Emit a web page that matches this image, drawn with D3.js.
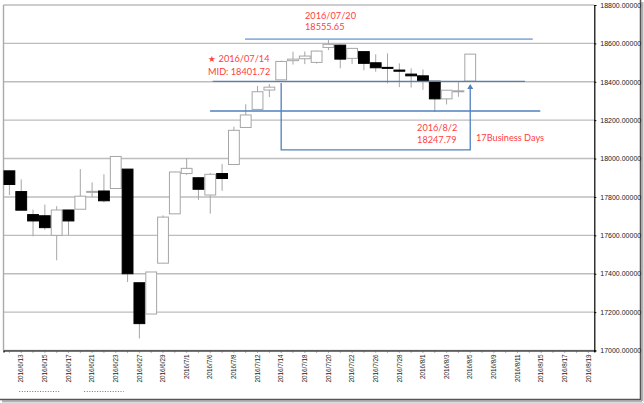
<!DOCTYPE html>
<html><head><meta charset="utf-8">
<script src="https://cdn.jsdelivr.net/npm/d3@7"></script>
<style>html,body{margin:0;padding:0;background:#fff;}svg{display:block;}</style>
</head><body>
<svg id="chart" width="644" height="403"></svg>
<script>
// ---- data ----
const dates = ["2016/6/10","2016/6/13","2016/6/14","2016/6/15","2016/6/16","2016/6/17",
  "2016/6/20","2016/6/21","2016/6/22","2016/6/23","2016/6/24",
  "2016/6/27","2016/6/28","2016/6/29","2016/6/30","2016/7/1",
  "2016/7/5","2016/7/6","2016/7/7","2016/7/8",
  "2016/7/11","2016/7/12","2016/7/13","2016/7/14","2016/7/15",
  "2016/7/18","2016/7/19","2016/7/20","2016/7/21","2016/7/22",
  "2016/7/25","2016/7/26","2016/7/27","2016/7/28","2016/7/29",
  "2016/8/1","2016/8/2","2016/8/3","2016/8/4","2016/8/5",
  "2016/8/8","2016/8/9","2016/8/10","2016/8/11","2016/8/12",
  "2016/8/15","2016/8/16","2016/8/17","2016/8/18","2016/8/19"];
const opens  = [17936,17828,17708,17702,17600,17732,17736,17826,17831,17844,17945,17353,17190,17455,17712,17922,17900,17810,17922,17969,18162,18256,18357,18410,18510,18520,18501,18579,18591,18522,18557,18499,18475,18461,18440,18431,18403,18311,18352,18403];
const highs  = [17938,17891,17734,17760,17752,17733,17945,17876,17918,18011,17946,17355,17409,17704,17931,18002,17902,17925,17972,18166,18283,18378,18388,18510,18557,18558,18562,18623,18594,18574,18560,18543,18548,18496,18470,18464,18403,18357,18400,18544];
const lows   = [17810,17731,17595,17629,17470,17600,17736,17799,17772,17844,17357,17063,17190,17455,17711,17915,17785,17713,17832,17969,18162,18256,18320,18410,18490,18492,18495,18565,18470,18492,18460,18452,18392,18372,18370,18358,18243,18282,18322,18403];
const closes = [17865,17731,17675,17640,17732,17675,17804,17829,17780,18011,17400,17140,17409,17695,17930,17949,17840,17918,17896,18147,18227,18348,18372,18506,18518,18534,18560,18595,18518,18574,18496,18473,18473,18455,18431,18404,18311,18356,18353,18544];
const yTicks = [17000,17200,17400,17600,17800,18000,18200,18400,18600,18800];
const xLabelDates = dates.filter((d,i)=> i % 2 === 1);

// annotations
const highLevel = 18622;      // 7/20 high line
const midLevel = 18401.72;
const lowLevel = 18247.79;
const bracketBottom = 18045;
const annoTexts = {
  top1: "2016/07/20", top2: "18555.65",
  mid1: "2016/07/14", mid2: "MID: 18401.72",
  low1: "2016/8/2", low2: "18247.79",
  days: "17Business Days"
};

// ---- scales ----
const svg = d3.select("#chart");
const x = d3.scaleBand().domain(dates).range([3.5, 594.3]).padding(0);
const bw = x.bandwidth();
const y = d3.scaleLinear().domain([17000, 18800]).range([350.5, 5]);
const cx = d => x(d) + bw / 2;
const ux = u => x.range()[0] + u * bw;   // fractional band position

// outer frame with shadow
svg.append("line").attr("x1",0).attr("x2",640).attr("y1",399.5).attr("y2",399.5).attr("stroke","#555").attr("stroke-width",1.5);
svg.append("line").attr("x1",2).attr("x2",642).attr("y1",401).attr("y2",401).attr("stroke","#999").attr("stroke-width",1.5);
svg.append("line").attr("x1",2).attr("x2",643).attr("y1",402.5).attr("y2",402.5).attr("stroke","#ddd").attr("stroke-width",1);
svg.append("line").attr("x1",640.5).attr("x2",640.5).attr("y1",0).attr("y2",400).attr("stroke","#555").attr("stroke-width",1.5);
svg.append("line").attr("x1",642).attr("x2",642).attr("y1",2).attr("y2",401).attr("stroke","#999").attr("stroke-width",1.5);
svg.append("line").attr("x1",643.5).attr("x2",643.5).attr("y1",2).attr("y2",402).attr("stroke","#ddd").attr("stroke-width",1);

// gridlines
svg.append("g").selectAll("line").data(yTicks).join("line")
  .attr("x1", x.range()[0]).attr("x2", x.range()[1])
  .attr("y1", d => y(d)).attr("y2", d => y(d))
  .attr("stroke", "#bdbdbd").attr("stroke-width", 1.4);

// left border
svg.append("line").attr("x1",x.range()[0]).attr("x2",x.range()[0]).attr("y1",y(18800)).attr("y2",y(17000))
  .attr("stroke","#aaa").attr("stroke-width",1.4);

// ---- candles ----
const candles = dates.slice(0, opens.length).map((d,i)=>({d, o:opens[i], h:highs[i], l:lows[i], c:closes[i]}));
const cg = svg.append("g");
cg.selectAll("line.wick").data(candles).join("line").attr("class","wick")
  .attr("x1", d => cx(d.d)).attr("x2", d => cx(d.d))
  .attr("y1", d => y(d.h)).attr("y2", d => y(d.l))
  .attr("stroke", "#a6a6a6").attr("stroke-width", 1);
cg.selectAll("rect").data(candles).join("rect")
  .attr("x", d => x(d.d) + 0.5).attr("width", bw - 1)
  .attr("y", d => y(Math.max(d.o, d.c)))
  .attr("height", d => Math.max(1, Math.abs(y(d.o) - y(d.c))))
  .attr("fill", d => d.c < d.o ? "#000" : "#fff")
  .attr("stroke", d => d.c < d.o ? "#000" : "#a6a6a6")
  .attr("stroke-width", 1);

// ---- axes ----
const yAxis = svg.append("g").attr("transform", `translate(${x.range()[1]},0)`)
  .call(d3.axisRight(y).tickValues(yTicks).tickFormat(d3.format(".5f")).tickSize(2).tickPadding(4));
yAxis.select(".domain").attr("stroke","#000").attr("stroke-width",1.2);
yAxis.selectAll("text").attr("font-family","'Liberation Sans', Arial, sans-serif").attr("font-size","7px").attr("fill","#222");

const xAxis = svg.append("g").attr("transform", `translate(0,${y(17000)})`)
  .call(d3.axisBottom(x).tickValues(dates).tickSize(2)
    .tickFormat(d => xLabelDates.includes(d) ? d : ""));
xAxis.select(".domain").attr("stroke","#000").attr("stroke-width",1.2);
xAxis.selectAll(".tick line").attr("stroke","#666");
xAxis.selectAll("text")
  .attr("font-family","'Liberation Sans', Arial, sans-serif").attr("font-size","6.3px").attr("fill","#222")
  .attr("transform","rotate(-90)").attr("text-anchor","end")
  .attr("x",-4).attr("y",0).attr("dy","0.35em");

// dotted underline artifacts
const dots = [["2016/6/13",-2,"2016/6/17",-8],["2016/6/21",-8,"2016/6/23",8]];
svg.append("g").selectAll("line").data(dots).join("line")
  .attr("x1", d => cx(d[0]) + d[1]).attr("x2", d => cx(d[2]) + d[3])
  .attr("y1", 391.5).attr("y2", 391.5)
  .attr("stroke","#777").attr("stroke-width",1).attr("stroke-dasharray","1,1.6");

// ---- annotations ----
const blue = "#4f81bd", lightBlue = "#8db3e2", red = "#ff4040";
const ag = svg.append("g");
ag.append("line").attr("x1", ux(20.44)).attr("x2", ux(44.79)).attr("y1", y(highLevel)).attr("y2", y(highLevel))
  .attr("stroke", lightBlue).attr("stroke-width", 1.6);
ag.append("line").attr("x1", ux(17.7)).attr("x2", ux(44.13)).attr("y1", y(midLevel)).attr("y2", y(midLevel))
  .attr("stroke", blue).attr("stroke-width", 1.3);
ag.append("line").attr("x1", ux(17.48)).attr("x2", ux(45.43)).attr("y1", y(lowLevel)).attr("y2", y(lowLevel))
  .attr("stroke", blue).attr("stroke-width", 1.3);
const bx1 = cx("2016/7/14"), bx2 = cx("2016/8/5");
ag.append("path")
  .attr("d", `M${bx1},${y(midLevel)+1.5}V${y(bracketBottom)}H${bx2}V${y(midLevel)+6}`)
  .attr("fill","none").attr("stroke", blue).attr("stroke-width", 1.3);
ag.append("path")
  .attr("d", `M${bx2},${y(midLevel)+2.5}l-3,5h6z`).attr("fill", blue);

const tf = "Lato, 'Open Sans', sans-serif";
function txt(u, v, s, size) {
  return ag.append("text").attr("x", ux(u)).attr("y", y(v)).attr("dy","0.35em")
    .attr("font-family", tf).attr("font-size", size || "9.2px").attr("fill", red).text(s);
}
txt(25.52, 18744, annoTexts.top1);
txt(25.52, 18686, annoTexts.top2);
ag.append("text").attr("x", ux(17.31)).attr("y", y(18521)).attr("dy","0.38em")
  .attr("font-family","'DejaVu Sans', sans-serif").attr("font-size","8.6px").attr("fill",red).text("★");
txt(18.2, 18521, annoTexts.mid1);
txt(17.31, 18453, annoTexts.mid2);
txt(35.0, 18158, annoTexts.low1);
txt(35.0, 18100, annoTexts.low2);
txt(39.99, 18109, annoTexts.days);
</script>
</body></html>
